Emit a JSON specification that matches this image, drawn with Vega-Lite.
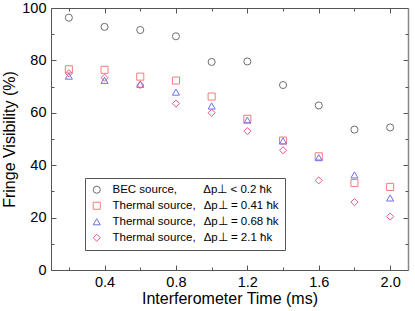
{
  "$schema": "https://vega.github.io/schema/vega-lite/v6.json",
  "width": 357,
  "height": 262,
  "autosize": {"type": "none"},
  "padding": {"left": 51, "top": 8, "right": 7, "bottom": 41},
  "config": {
    "font": "Liberation Sans",
    "view": {"stroke": null},
    "axis": {
      "grid": false,
      "domainColor": "#555555",
      "tickColor": "#555555",
      "labelColor": "#000000",
      "titleColor": "#000000",
      "labelFont": "Liberation Sans",
      "titleFont": "Liberation Sans",
      "labelFontSize": 14.5,
      "titleFontSize": 16,
      "titleFontWeight": "normal"
    },
    "legend": {
      "labelFont": "Liberation Sans",
      "labelFontSize": 11.5,
      "labelColor": "#000000",
      "labelLimit": 400
    }
  },
  "data": {
    "values": [
      {"time": 0.2, "visibility": 96.3, "source": "BEC"},
      {"time": 0.4, "visibility": 92.8, "source": "BEC"},
      {"time": 0.6, "visibility": 91.6, "source": "BEC"},
      {"time": 0.8, "visibility": 89.2, "source": "BEC"},
      {"time": 1.0, "visibility": 79.4, "source": "BEC"},
      {"time": 1.2, "visibility": 79.6, "source": "BEC"},
      {"time": 1.4, "visibility": 70.6, "source": "BEC"},
      {"time": 1.6, "visibility": 62.8, "source": "BEC"},
      {"time": 1.8, "visibility": 53.6, "source": "BEC"},
      {"time": 2.0, "visibility": 54.4, "source": "BEC"},
      {"time": 0.2, "visibility": 76.6, "source": "T041"},
      {"time": 0.4, "visibility": 76.4, "source": "T041"},
      {"time": 0.6, "visibility": 73.8, "source": "T041"},
      {"time": 0.8, "visibility": 72.3, "source": "T041"},
      {"time": 1.0, "visibility": 66.2, "source": "T041"},
      {"time": 1.2, "visibility": 57.7, "source": "T041"},
      {"time": 1.4, "visibility": 49.4, "source": "T041"},
      {"time": 1.6, "visibility": 43.4, "source": "T041"},
      {"time": 1.8, "visibility": 33.2, "source": "T041"},
      {"time": 2.0, "visibility": 31.7, "source": "T041"},
      {"time": 0.2, "visibility": 74.0, "source": "T068"},
      {"time": 0.4, "visibility": 72.4, "source": "T068"},
      {"time": 0.6, "visibility": 70.9, "source": "T068"},
      {"time": 0.8, "visibility": 67.9, "source": "T068"},
      {"time": 1.0, "visibility": 62.6, "source": "T068"},
      {"time": 1.2, "visibility": 57.2, "source": "T068"},
      {"time": 1.4, "visibility": 49.3, "source": "T068"},
      {"time": 1.6, "visibility": 42.9, "source": "T068"},
      {"time": 1.8, "visibility": 36.3, "source": "T068"},
      {"time": 2.0, "visibility": 27.5, "source": "T068"},
      {"time": 0.2, "visibility": 75.1, "source": "T21"},
      {"time": 0.4, "visibility": 73.4, "source": "T21"},
      {"time": 0.6, "visibility": 70.6, "source": "T21"},
      {"time": 0.8, "visibility": 63.5, "source": "T21"},
      {"time": 1.0, "visibility": 60.0, "source": "T21"},
      {"time": 1.2, "visibility": 53.0, "source": "T21"},
      {"time": 1.4, "visibility": 45.7, "source": "T21"},
      {"time": 1.6, "visibility": 34.2, "source": "T21"},
      {"time": 1.8, "visibility": 25.9, "source": "T21"},
      {"time": 2.0, "visibility": 20.4, "source": "T21"}
    ]
  },
  "layer": [
    {
      "mark": {"type": "point", "opacity": 0},
      "encoding": {
        "x": {"field": "time", "type": "quantitative", "scale": {"domain": [0.1, 2.1], "nice": false, "zero": false},
          "axis": {"orient": "bottom", "values": [0.2, 0.6, 1.0, 1.4, 1.8], "labels": false, "title": null, "tickSize": -3, "domain": false}},
        "y": {"field": "visibility", "type": "quantitative", "scale": {"domain": [0, 100], "nice": false},
          "axis": {"orient": "left", "values": [10, 30, 50, 70, 90], "labels": false, "title": null, "tickSize": -3, "domain": false}}
      }
    },
    {
      "mark": {"type": "point", "opacity": 0},
      "encoding": {
        "x": {"field": "time", "type": "quantitative", "scale": {"domain": [0.1, 2.1], "nice": false, "zero": false},
          "axis": {"orient": "top", "values": [0.4, 0.8, 1.2, 1.6, 2.0], "labels": false, "title": null, "tickSize": -5, "domain": true}},
        "y": {"field": "visibility", "type": "quantitative", "scale": {"domain": [0, 100], "nice": false},
          "axis": {"orient": "right", "values": [0, 20, 40, 60, 80, 100], "labels": false, "title": null, "tickSize": -5, "domain": true, "domainColor": "#888888", "domainWidth": 1.5}}
      }
    },
    {
      "mark": {"type": "point", "opacity": 0},
      "encoding": {
        "x": {"field": "time", "type": "quantitative", "scale": {"domain": [0.1, 2.1], "nice": false, "zero": false},
          "axis": {"orient": "top", "values": [0.2, 0.6, 1.0, 1.4, 1.8], "labels": false, "title": null, "tickSize": -3, "domain": false}},
        "y": {"field": "visibility", "type": "quantitative", "scale": {"domain": [0, 100], "nice": false},
          "axis": {"orient": "right", "values": [10, 30, 50, 70, 90], "labels": false, "title": null, "tickSize": -3, "domain": false}}
      }
    },
    {
      "mark": {"type": "point", "filled": false, "size": 50, "strokeWidth": 1, "opacity": 1},
      "encoding": {
        "x": {"field": "time", "type": "quantitative", "scale": {"domain": [0.1, 2.1], "nice": false, "zero": false},
          "axis": {"orient": "bottom", "values": [0.4, 0.8, 1.2, 1.6, 2.0], "format": ".1f", "title": "Interferometer Time (ms)", "tickSize": -5, "labelPadding": 10, "titlePadding": 2, "domain": true}},
        "y": {"field": "visibility", "type": "quantitative", "scale": {"domain": [0, 100], "nice": false},
          "axis": {"orient": "left", "values": [0, 20, 40, 60, 80, 100], "title": "Fringe Visibility (%)", "tickSize": -5, "labelPadding": 10, "titlePadding": 4, "domain": true}},
        "color": {"field": "source", "type": "nominal",
          "scale": {"domain": ["BEC", "T041", "T068", "T21"], "range": ["#6e6e6e", "#f47c7c", "#6f6fe6", "#e8588a"]},
          "legend": {"title": null, "orient": "none", "legendX": 34, "legendY": 170, "strokeColor": "#555555", "fillColor": "#ffffff", "padding": 6, "rowPadding": 3, "symbolSize": 50, "symbolStrokeWidth": 1, "labelOffset": 10,
            "labelExpr": "datum.value == 'BEC' ? 'BEC source,\u2003\u2003 \u0394p\u22a5 < 0.2 \u0127k' : datum.value == 'T041' ? 'Thermal source,\u2002\u2009\u0394p\u22a5 = 0.41 \u0127k' : datum.value == 'T068' ? 'Thermal source,\u2002\u2009\u0394p\u22a5 = 0.68 \u0127k' : 'Thermal source,\u2002\u2009\u0394p\u22a5 = 2.1 \u0127k'"}},
        "shape": {"field": "source", "type": "nominal",
          "scale": {"domain": ["BEC", "T041", "T068", "T21"], "range": ["circle", "square", "triangle-up", "diamond"]}}
      }
    }
  ],
  "resolve": {"axis": {"x": "independent", "y": "independent"}}
}
